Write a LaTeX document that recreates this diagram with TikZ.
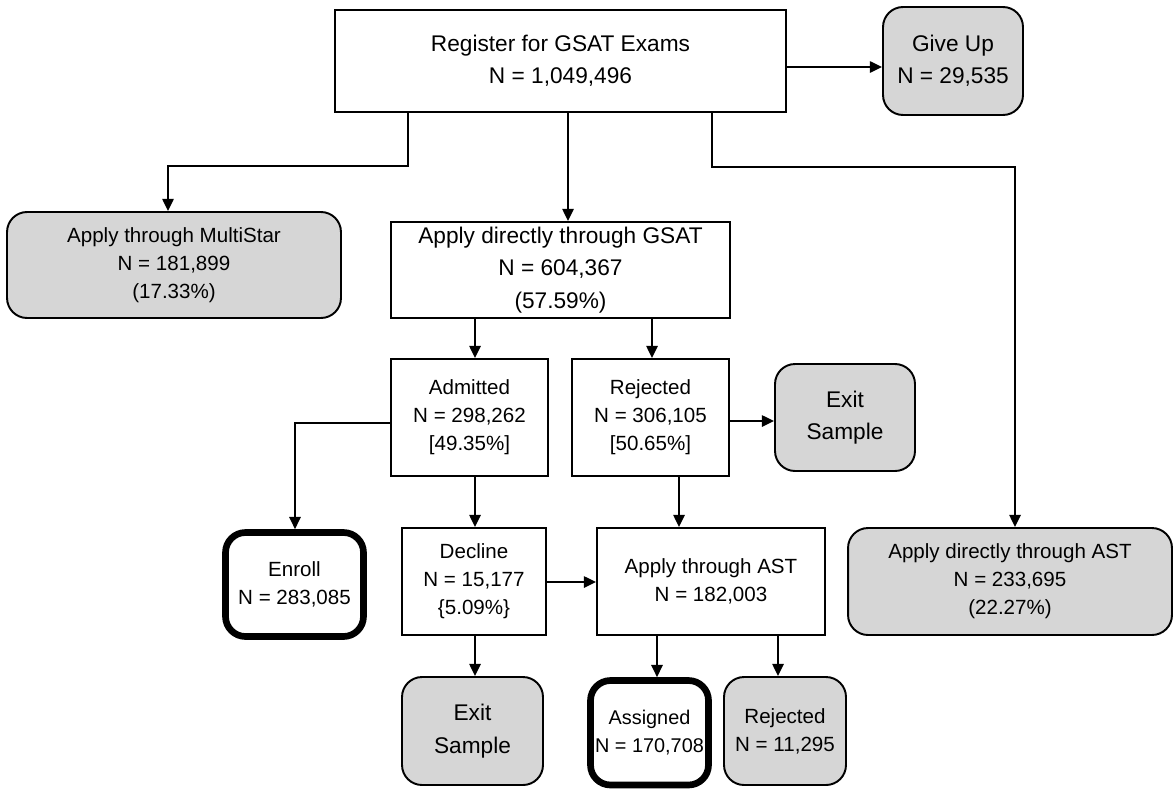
\documentclass[tikz,border=0pt]{standalone}
\usepackage{fontspec}
\setmainfont{Liberation Sans}
\usetikzlibrary{arrows.meta}
\definecolor{gfill}{HTML}{D6D6D6}
\begin{document}
\begin{tikzpicture}[x=0.02cm,y=-0.02cm,
  bx/.style={draw=black, line width=1.1pt, align=center, inner sep=0pt, fill=white, font=\fontsize{11.7}{15.9}\selectfont},
  big/.style={font=\fontsize{12.9}{18.4}\selectfont},
  gbox/.style={bx, fill=gfill, rounded corners=0.4cm},
  tbox/.style={bx, line width=3.8pt, rounded corners=0.4cm},
  arr/.style={line width=1.1pt, -{Triangle[length=7pt,width=6.5pt]}},
]
\useasboundingbox (0,0) rectangle (1175,788);

\node[bx, big, minimum width=9.02cm, minimum height=2.04cm] (reg) at (560.5,61) {Register for GSAT Exams\\N = 1,049,496};
\node[gbox, big, minimum width=2.8cm, minimum height=2.16cm] (giveup) at (953,61) {Give Up\\N = 29,535};
\node[gbox, minimum width=6.68cm, minimum height=2.12cm] (multi) at (174,265) {Apply through MultiStar\\N = 181,899\\(17.33\%)};
\node[bx, big, minimum width=6.78cm, minimum height=1.92cm] (gsat) at (560.5,270) {Apply directly through GSAT\\N = 604,367\\(57.59\%)};
\node[gbox, minimum width=6.48cm, minimum height=2.14cm] (astd) at (1010,581.5) {Apply directly through AST\\N = 233,695\\(22.27\%)};
\node[bx, minimum width=3.14cm, minimum height=2.34cm] (adm) at (469.5,417.5) {Admitted\\N = 298,262\\{[}49.35\%{]}};
\node[bx, minimum width=3.14cm, minimum height=2.34cm] (rej) at (650.5,417.5) {Rejected\\N = 306,105\\{[}50.65\%{]}};
\node[gbox, big, minimum width=2.8cm, minimum height=2.14cm] (exit1) at (845,417.5) {Exit\\Sample};
\node[tbox, minimum width=2.76cm, minimum height=2.08cm] (enroll) at (294.5,584.5) {Enroll\\N = 283,085};
\node[bx, minimum width=2.88cm, minimum height=2.14cm] (decl) at (474,581.5) {Decline\\N = 15,177\\\{5.09\%\}};
\node[bx, minimum width=4.56cm, minimum height=2.14cm] (ast) at (711,581.5) {Apply through AST\\N = 182,003};
\node[gbox, big, minimum width=2.82cm, minimum height=2.16cm] (exit2) at (472.5,731) {Exit\\Sample};
\node[tbox, font=\fontsize{11.3}{15.9}\selectfont, minimum width=2.36cm, minimum height=2.09cm] (assig) at (649.5,732.75) {Assigned\\N = 170,708};
\node[gbox, minimum width=2.44cm, minimum height=2.16cm] (rej2) at (785,731) {Rejected\\N = 11,295};

\coordinate (g1) at (0,67);
\coordinate (b1) at (408,166);
\coordinate (b2) at (168,166);
\coordinate (c1) at (568,0);
\coordinate (d1) at (712,167);
\coordinate (d2) at (1015,167);
\coordinate (e1) at (475,0);
\coordinate (e2) at (652,0);
\coordinate (f1) at (0,421);
\coordinate (h1) at (295,423);
\coordinate (k1) at (679,0);
\coordinate (k2) at (0,582);
\coordinate (m1) at (657,0);
\coordinate (m2) at (778,0);

\draw[arr] (reg.east |- g1) -- (giveup.west |- g1);
\draw[arr] (reg.south -| b1) -- (b1) -- (b2) -- (multi.north -| b2);
\draw[arr] (reg.south -| c1) -- (gsat.north -| c1);
\draw[arr] (reg.south -| d1) -- (d1) -- (d2) -- (astd.north -| d2);
\draw[arr] (gsat.south -| e1) -- (adm.north -| e1);
\draw[arr] (gsat.south -| e2) -- (rej.north -| e2);
\draw[arr] (rej.east |- f1) -- (exit1.west |- f1);
\draw[arr] (adm.west |- h1) -- (h1) -- (enroll.north -| h1);
\draw[arr] (adm.south -| e1) -- (decl.north -| e1);
\draw[arr] (rej.south -| k1) -- (ast.north -| k1);
\draw[arr] (decl.east |- k2) -- (ast.west |- k2);
\draw[arr] (decl.south -| e1) -- (exit2.north -| e1);
\draw[arr] (ast.south -| m1) -- (assig.north -| m1);
\draw[arr] (ast.south -| m2) -- (rej2.north -| m2);
\end{tikzpicture}
\end{document}
